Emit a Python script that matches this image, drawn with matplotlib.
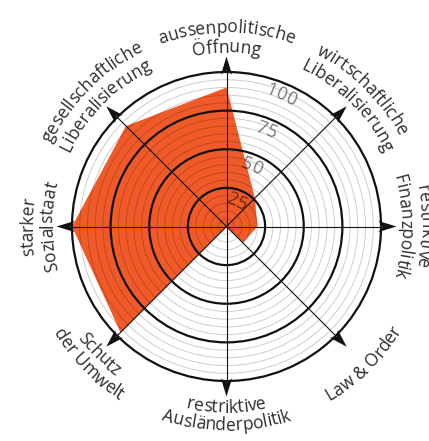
import numpy as np
import matplotlib
matplotlib.use("Agg")
import matplotlib.pyplot as plt
from matplotlib.font_manager import FontProperties, findfont, get_font
from matplotlib.patches import Polygon, Circle

# ---------------- data ----------------
categories = [
    ["aussenpolitische", "Öffnung"],
    ["wirtschaftliche", "Liberalisierung"],
    ["restriktive", "Finanzpolitik"],
    ["Law & Order"],
    ["restriktive", "Ausländerpolitik"],
    ["Schutz", "der Umwelt"],
    ["starker", "Sozialstaat"],
    ["gesellschaftliche", "Liberalisierung"],
]
values = [90, 26, 20, 15, 0, 97, 100, 92]
tick_values = [25, 50, 75, 100]
tick_labels = ["25", "50", "75", "100"]
minor_values = [v for v in range(5, 100, 5) if v % 25 != 0]

# ---------------- style ----------------
DPI = 100
W_PX, H_PX = 429, 441
CX, CY = 226.5, H_PX - 226.5
SCALE = 154.5 / 100.0
FILL = "#F05A28"
TEXT = "#2e2e2e"


def pick_font():
    for fam in ["Open Sans", "Lato", "Roboto", "DejaVu Sans"]:
        try:
            findfont(FontProperties(family=fam), fallback_to_default=False)
            return fam
        except Exception:
            pass
    return "DejaVu Sans"


FAM = pick_font()
WEIGHT = "normal"


def advances(s, fp):
    font = get_font(findfont(fp))
    font.set_size(fp.get_size_in_points(), DPI)
    out = []
    for ch in s:
        g = font.load_char(ord(ch))
        out.append(g.linearHoriAdvance / 65536.0)
    return out


# label font size chosen so that "aussenpolitische" spans ~136 px like the reference
_fp10 = FontProperties(family=FAM, weight=WEIGHT, size=10.0)
LABEL_FS = 10.0 * 136.0 / sum(advances("aussenpolitische", _fp10))
_fp = FontProperties(family=FAM, weight=WEIGHT, size=LABEL_FS)
TICK_FS = LABEL_FS * 1.03
TICK_TRACK = max(0.0, (31.0 - sum(advances("100", _fp))) / 2)


def char_layout(s, fp, track):
    adv = advances(s, fp)
    pos, x = [], 0.0
    for k, a in enumerate(adv):
        pos.append(x + a / 2.0)
        x += a + (track if k < len(adv) - 1 else 0)
    return pos, x


def arc_text(ax, s, r, theta_deg, fs, outward=True, color=TEXT, track=0.0):
    fp = FontProperties(family=FAM, weight=WEIGHT, size=fs)
    pos, total = char_layout(s, fp, track)
    for ch, p in zip(s, pos):
        if ch == " ":
            continue
        d = (p - total / 2.0) / r
        if outward:
            ang = np.radians(theta_deg) - d
            rot = np.degrees(ang) - 90
        else:
            ang = np.radians(theta_deg) + d
            rot = np.degrees(ang) + 90
        ax.text(CX + r * np.cos(ang), CY + r * np.sin(ang), ch, fontproperties=fp,
                rotation=rot, rotation_mode="anchor", ha="center", va="baseline",
                color=color, zorder=6)


def straight_text(ax, s, x0, y0, rot_deg, fs, color, track=0.0):
    fp = FontProperties(family=FAM, weight=WEIGHT, size=fs)
    pos, total = char_layout(s, fp, track)
    t = np.radians(rot_deg)
    for ch, p in zip(s, pos):
        d = p - total / 2.0
        ax.text(x0 + d * np.cos(t), y0 + d * np.sin(t), ch, fontproperties=fp,
                rotation=rot_deg, rotation_mode="anchor", ha="center", va="center",
                color=color, zorder=5)


fig = plt.figure(figsize=(W_PX / DPI, H_PX / DPI), dpi=DPI)
ax = fig.add_axes([0, 0, 1, 1])
ax.set_xlim(0, W_PX)
ax.set_ylim(0, H_PX)
ax.axis("off")

n = len(categories)
angles = [np.radians(90 - 45 * i) for i in range(n)]

# filled polygon
pts = [(CX + v * SCALE * np.cos(a), CY + v * SCALE * np.sin(a)) for v, a in zip(values, angles)]
ax.add_patch(Polygon(pts, closed=True, facecolor=FILL, edgecolor="none", zorder=1))

# minor rings
for v in minor_values:
    ax.add_patch(Circle((CX, CY), v * SCALE, fill=False, edgecolor=(0, 0, 0, 0.19), lw=0.75, zorder=2))
# major rings
for v in tick_values:
    ax.add_patch(Circle((CX, CY), v * SCALE, fill=False, edgecolor="#111111", lw=1.6, zorder=3))

# axes lines and arrowheads
R = 100 * SCALE
for a in angles:
    u = np.array([np.cos(a), np.sin(a)])
    nrm = np.array([-np.sin(a), np.cos(a)])
    c = np.array([CX, CY])
    ax.plot([CX, CX + R * u[0]], [CY, CY + R * u[1]], color="#111111", lw=0.8, zorder=4)
    tri = [c + 170 * u, c + 152 * u + 5.5 * nrm, c + 156 * u, c + 152 * u - 5.5 * nrm]
    ax.add_patch(Polygon(tri, closed=True, facecolor="#111111", edgecolor="none", zorder=4))

# tick labels
tick_ang = 67.5
for v, lab in zip(tick_values, tick_labels):
    r = v * SCALE - 12
    t = np.radians(tick_ang)
    straight_text(ax, lab, CX + r * np.cos(t), CY + r * np.sin(t), tick_ang - 90,
                  TICK_FS, (0, 0, 0, 0.52), track=TICK_TRACK)

# category labels along arcs
for i, lines in enumerate(categories):
    th = 90 - 45 * i
    inward = i in (3, 4, 5)
    if inward:
        radii = [186, 204] if len(lines) == 2 else [203]
    else:
        radii = [194, 174] if len(lines) == 2 else [194]
    for s, r in zip(lines, radii):
        arc_text(ax, s, r, th, LABEL_FS, outward=not inward)

fig.savefig("out.png", dpi=DPI)
